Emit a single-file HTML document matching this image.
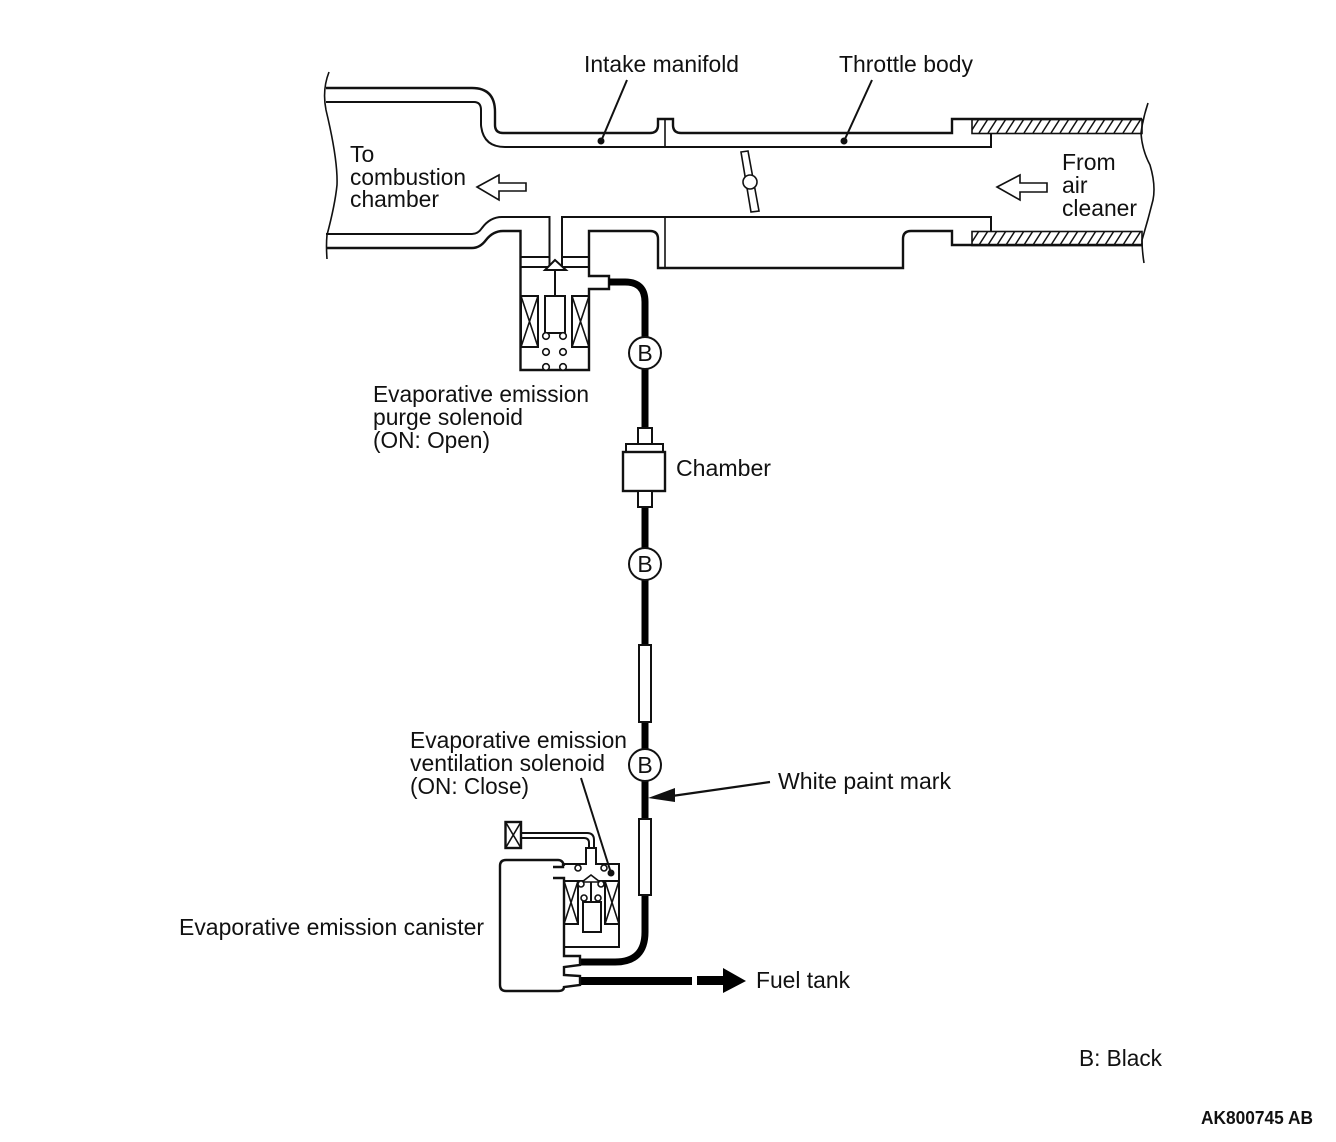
<!DOCTYPE html>
<html>
<head>
<meta charset="utf-8">
<style>
html,body{margin:0;padding:0;background:#fff;}
svg{display:block;}
text{font-family:"Liberation Sans",sans-serif;font-size:23px;fill:#111;}
.l{fill:none;stroke:#111;stroke-width:2;}
.m{fill:none;stroke:#111;stroke-width:2.4;}
.t{fill:none;stroke:#111;stroke-width:1.6;}
.w{fill:#fff;stroke:#111;stroke-width:2;}
.h{fill:none;stroke:#000;stroke-width:7;}
</style>
</head>
<body>
<svg width="1336" height="1142" viewBox="0 0 1336 1142" xmlns="http://www.w3.org/2000/svg">
<rect width="1336" height="1142" fill="#fff"/>
<defs>
<pattern id="hatch" width="9" height="14" patternUnits="userSpaceOnUse" patternTransform="translate(972 119)">
<path d="M-2 14L7 0M7 14L16 0" stroke="#111" stroke-width="1.5" fill="none"/>
</pattern>
</defs>

<!-- break lines -->
<path class="t" d="M329 72Q322 90 326 110Q338 160 337 185Q335 205 327 235Q326 245 327 259"/>
<path class="t" d="M1148 103Q1143 118 1141 133Q1142 150 1150 165Q1156 185 1153 200Q1148 220 1142 240Q1142 250 1144 263"/>

<!-- intake upper -->
<path class="m" d="M326 88H472Q495 88 495 112V125Q495 133 503 133H650Q658 133 658 125V119H673V125Q673 133 681 133H952V119H1142"/>
<path class="l" d="M326 102H474Q481 102 481 110V125Q483 147 505 147H991V133"/>
<path class="t" d="M665 119V147"/>
<rect x="972" y="119.500" width="170" height="14" fill="url(#hatch)" stroke="#111" stroke-width="1.600"/>

<!-- intake lower -->
<path class="l" d="M326 234H472Q478 234 482 228Q490 217 502 217H549.500V268M562 268V217H991V231"/>
<path class="m" d="M326 248H472Q480 248 486 240Q493 231 503 231H520.500V370H589V289H609V276H589V231H650Q658 231 658 239V268H903V239Q903 231 911 231H952V245H1142"/>
<path class="t" d="M665 217V268"/>
<rect x="972" y="231.500" width="170" height="14" fill="url(#hatch)" stroke="#111" stroke-width="1.600"/>

<!-- throttle plate -->
<polygon class="w" points="741,152 748,151 759,211 751,212" style="stroke-width:1.600"/>
<circle class="w" cx="750" cy="182" r="7" style="stroke-width:1.600"/>

<!-- flow arrows -->
<polygon class="t" fill="#fff" points="477,187 499,175 499,183 526,183 526,191 499,191 499,200"/>
<polygon class="t" fill="#fff" points="997,187 1020,175 1020,183 1047,183 1047,192 1020,192 1020,200"/>

<!-- leaders -->
<path d="M627 80L602 139M872 80L845 139" stroke="#111" stroke-width="2" fill="none"/>
<circle cx="601" cy="141" r="3.500" fill="#111"/>
<circle cx="844" cy="141" r="3.500" fill="#111"/>

<!-- purge solenoid -->
<path class="l" d="M521 257H549.500M562 257H589M521 267H549.500M562 267H589"/>
<polygon class="w" points="555,260 545,270 566,270" style="fill:#fff"/>
<path class="l" d="M555 270V296"/>
<rect class="l" x="545" y="296" width="20" height="37"/>
<rect class="l" x="521" y="296" width="17" height="51"/>
<path class="t" d="M521 296L538 347M538 296L521 347"/>
<rect class="l" x="572" y="296" width="17" height="51"/>
<path class="t" d="M572 296L589 347M589 296L572 347"/>
<g class="w" style="stroke-width:1.600">
<circle cx="546" cy="336" r="3.300"/><circle cx="563" cy="336" r="3.300"/>
<circle cx="546" cy="352" r="3.300"/><circle cx="563" cy="352" r="3.300"/>
<circle cx="546" cy="367" r="3.300"/><circle cx="563" cy="367" r="3.300"/>
</g>

<!-- main hose -->
<path class="h" d="M609 282H625Q645 282 645 302V819"/>
<path class="h" d="M645 895V932Q645 962 615 962H580"/>
<path d="M580 981H692" stroke="#000" stroke-width="8" fill="none"/>
<polygon fill="#000" points="697,976 723,976 723,968 746,981 723,993 723,985 697,985"/>

<!-- chamber -->
<rect class="w" x="638" y="428" width="14" height="17"/>
<rect class="w" x="626" y="444" width="37" height="9"/>
<rect class="w" x="623" y="452" width="42" height="39" style="stroke-width:2.400"/>
<rect class="w" x="638" y="491" width="14" height="16"/>

<!-- sleeves -->
<rect class="w" x="639" y="645" width="12" height="77"/>
<rect class="w" x="639" y="819" width="12" height="76"/>

<!-- B circles -->
<circle class="w" cx="645" cy="353" r="16"/>
<circle class="w" cx="645" cy="564" r="16"/>
<circle class="w" cx="645" cy="765" r="16"/>
<text x="645" y="361" text-anchor="middle">B</text>
<text x="645" y="572" text-anchor="middle">B</text>
<text x="645" y="773" text-anchor="middle">B</text>

<!-- canister -->
<path class="m" d="M553 867H563V864M553 878H564V956H580V965L564 967V975L580 976V985L564 987Q564 991 558 991H506Q500 991 500 985V866Q500 860 506 860H558Q563 860 564 866"/>
<path class="l" d="M564 864H586V848H596V864H619V947H564"/>
<path class="l" d="M564 881H619"/>
<rect class="l" x="564" y="881" width="14" height="43"/>
<path class="t" d="M564 881L578 924M578 881L564 924"/>
<rect class="l" x="605" y="881" width="14" height="43"/>
<path class="t" d="M605 881L619 924M619 881L605 924"/>
<rect class="l" x="583" y="902" width="18" height="30"/>
<path class="l" d="M591 882V902"/>
<polygon class="w" points="591,875 582,882 600,882" style="stroke-width:1.600"/>
<g class="w" style="stroke-width:1.600">
<circle cx="578" cy="868" r="3"/><circle cx="604" cy="868" r="3"/>
<circle cx="581" cy="884" r="3"/><circle cx="601" cy="884" r="3"/>
<circle cx="584" cy="898" r="3"/><circle cx="598" cy="898" r="3"/>
</g>
<!-- vent filter -->
<rect class="m" x="505.500" y="822" width="15.500" height="26"/>
<path class="t" d="M505.500 822L521 848M521 822L505.500 848"/>
<path class="l" d="M521 833H587Q594 833 594 840V848M521 838H584Q589 838 589 843V848"/>
<circle cx="611" cy="873" r="3.500" fill="#111"/>
<path d="M581 778L611 873" stroke="#111" stroke-width="2" fill="none"/>

<!-- white paint mark -->
<path d="M770 782L672 796" stroke="#111" stroke-width="2.200" fill="none"/>
<polygon fill="#111" points="648,798 675,788 675,802"/>

<!-- labels -->
<text x="584" y="72" textLength="155" lengthAdjust="spacingAndGlyphs">Intake manifold</text>
<text x="839" y="72" textLength="134" lengthAdjust="spacingAndGlyphs">Throttle body</text>
<text x="350" y="162">To</text>
<text x="350" y="185" textLength="116" lengthAdjust="spacingAndGlyphs">combustion</text>
<text x="350" y="207" textLength="89" lengthAdjust="spacingAndGlyphs">chamber</text>
<text x="1062" y="170">From</text>
<text x="1062" y="193">air</text>
<text x="1062" y="216" textLength="75" lengthAdjust="spacingAndGlyphs">cleaner</text>
<text x="373" y="402" textLength="216" lengthAdjust="spacingAndGlyphs">Evaporative emission</text>
<text x="373" y="425" textLength="150" lengthAdjust="spacingAndGlyphs">purge solenoid</text>
<text x="373" y="448" textLength="117" lengthAdjust="spacingAndGlyphs">(ON: Open)</text>
<text x="676" y="476" textLength="95" lengthAdjust="spacingAndGlyphs">Chamber</text>
<text x="410" y="748" textLength="217" lengthAdjust="spacingAndGlyphs">Evaporative emission</text>
<text x="410" y="771" textLength="195" lengthAdjust="spacingAndGlyphs">ventilation solenoid</text>
<text x="410" y="794" textLength="119" lengthAdjust="spacingAndGlyphs">(ON: Close)</text>
<text x="778" y="789" textLength="173" lengthAdjust="spacingAndGlyphs">White paint mark</text>
<text x="179" y="935" textLength="305" lengthAdjust="spacingAndGlyphs">Evaporative emission canister</text>
<text x="756" y="988" textLength="94" lengthAdjust="spacingAndGlyphs">Fuel tank</text>
<text x="1079" y="1066" textLength="83" lengthAdjust="spacingAndGlyphs">B: Black</text>
<text x="1201" y="1124" style="font-size:18px;font-weight:bold" textLength="112" lengthAdjust="spacingAndGlyphs">AK800745 AB</text>
</svg>
</body>
</html>
